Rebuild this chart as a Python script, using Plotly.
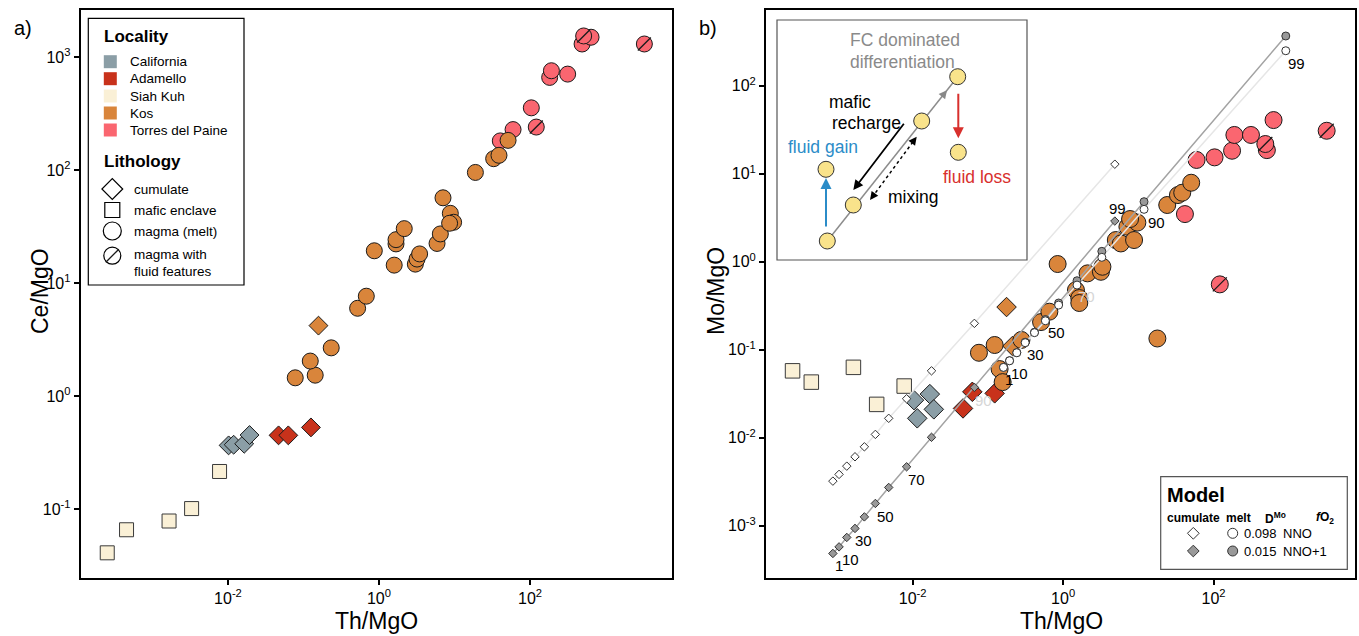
import numpy as np
import plotly.graph_objects as go

FONT = "Liberation Sans, Arial, sans-serif"

# ---------------- colours ----------------
C_CAL = "#8b9ea6"
C_ADA = "#c8321b"
C_SIA = "#faf0d6"
C_KOS = "#d9853b"
C_TOR = "#fa6670"

# ---------------- panel a data (Th/MgO vs Ce/MgO) ----------------
siah_th_a = [2.52e-4, 4.54e-4, 1.66e-3, 3.3e-3, 7.74e-3]
siah_ce_a = [0.041, 0.0656, 0.0784, 0.101, 0.215]
cal_th_a = [0.0102, 0.0119, 0.0164, 0.0193]
cal_ce_a = [0.366, 0.371, 0.378, 0.452]
ada_th_a = [0.0468, 0.063, 0.1256]
ada_ce_a = [0.449, 0.449, 0.528]
kos_cum_th_a = [0.158]
kos_cum_ce_a = [4.2]
kos_th_a = [0.0778, 0.143, 0.123, 0.233, 0.521, 0.679, 0.867, 1.59, 1.68, 1.68, 2.16, 3.03,
            3.19, 3.45, 5.87, 6.49, 7.04, 8.80, 9.73, 8.61, 18.9, 33.0, 38.8, 51.2]
kos_ce_a = [1.45, 1.53, 2.04, 2.67, 5.98, 7.65, 19.3, 14.4, 22.2, 24.2, 30.3, 14.7,
            16.3, 18.1, 22.4, 27.2, 56.8, 41.4, 34.5, 33.8, 95.2, 126, 135, 183]
tor_th_a = [40.4, 59.6, 104, 182, 192, 315, 489, 643]
tor_ce_a = [181, 228, 355, 660, 756, 706, 1304, 1496]
torf_th_a = [121, 513, 3266]
torf_ce_a = [240, 1536, 1304]

# ---------------- panel b data (Th/MgO vs Mo/MgO) ----------------
siah_th_b = [2.53e-4, 4.49e-4, 1.63e-3, 3.32e-3, 7.71e-3]
siah_mo_b = [0.0575, 0.0428, 0.063, 0.0239, 0.0386]
cal_th_b = [0.0104, 0.0169, 0.0191, 0.0115]
cal_mo_b = [0.0267, 0.0313, 0.021, 0.0166]
ada_th_b = [0.0467, 0.0621, 0.123]
ada_mo_b = [0.0215, 0.0332, 0.0319]
kos_cum_th_b = [0.177, 0.212]
kos_cum_mo_b = [0.305, 0.11]
kos_th_b = [0.076, 0.123, 0.279, 0.143, 0.157, 0.509, 0.656, 0.845, 1.48, 1.64, 1.64, 2.11,
            3.18, 3.33, 5.02, 5.85, 7.15, 8.77, 9.70, 7.76, 24.2, 33.6, 38.3, 50.4, 17.9]
kos_mo_b = [0.0922, 0.113, 0.129, 0.0602, 0.0428, 0.206, 0.270, 0.94, 0.475, 0.386, 0.339, 0.736,
            0.767, 0.875, 1.76, 1.61, 2.49, 1.76, 2.78, 3.05, 4.40, 5.71, 6.07, 7.88, 0.134]
tor_th_b = [59.4, 103, 176, 189, 314, 627, 511, 41.6]
tor_mo_b = [14.3, 15.3, 18.2, 27.5, 27.5, 40.6, 18.5, 3.47]
torf_th_b = [487, 121, 3186]
torf_mo_b = [21.7, 0.552, 30.7]

# ---------------- fractional crystallisation model ----------------
model_F = [1, 10, 20, 30, 40, 50, 60, 70, 80, 90, 99]
model_labels = [1, 10, 30, 50, 70, 90, 99]
cum_th = [8.69e-4, 1.05e-3, 1.33e-3, 1.71e-3, 2.28e-3, 3.19e-3, 4.80e-3, 8.30e-3, 0.0178, 0.0661, 4.87]
cum_mo_nno = [3.21e-3, 3.83e-3, 4.75e-3, 6.07e-3, 7.88e-3, 0.0109, 0.0166, 0.0277, 0.0575, 0.199, 12.8]
cum_mo_nno1 = [4.84e-4, 5.75e-4, 7.36e-4, 9.31e-4, 1.26e-3, 1.79e-3, 2.72e-3, 4.67e-3, 0.0101, 0.0373, 2.89]
melt_th = [0.161, 0.194, 0.242, 0.313, 0.416, 0.581, 0.871, 1.53, 3.27, 11.9, 912]
melt_mo_nno = [0.0629, 0.0748, 0.0922, 0.120, 0.156, 0.213, 0.321, 0.542, 1.12, 3.93, 249]
melt_mo_nno1 = [0.0629, 0.075, 0.0927, 0.1215, 0.158, 0.220, 0.339, 0.607, 1.31, 4.80, 366]

fig = go.Figure()


def pts(x, y, symbol, size, color, xa, ya, lw=1.0, lc="#1a1a1a"):
    fig.add_trace(go.Scatter(x=x, y=y, mode="markers", xaxis=xa, yaxis=ya,
                             marker=dict(symbol=symbol, size=size, color=color,
                                         line=dict(width=lw, color=lc)),
                             showlegend=False, hoverinfo="skip"))


def slash(x, y, xa, ya, size=13):
    fig.add_trace(go.Scatter(x=x, y=y, mode="markers", xaxis=xa, yaxis=ya,
                             marker=dict(symbol="line-ne", size=size,
                                         line=dict(width=1.3, color="#1a1a1a")),
                             showlegend=False, hoverinfo="skip"))


# ---- panel a ----
pts(siah_th_a, siah_ce_a, "square", 14, C_SIA, "x", "y", lc="#3a3a3a")
pts(cal_th_a, cal_ce_a, "diamond", 14.5, C_CAL, "x", "y")
pts(ada_th_a, ada_ce_a, "diamond", 14.5, C_ADA, "x", "y")
pts(tor_th_a, tor_ce_a, "circle", 16, C_TOR, "x", "y")
pts(torf_th_a, torf_ce_a, "circle", 16, C_TOR, "x", "y")
slash(torf_th_a, torf_ce_a, "x", "y")
pts(kos_cum_th_a, kos_cum_ce_a, "diamond", 14.5, C_KOS, "x", "y")
pts(kos_th_a, kos_ce_a, "circle", 16, C_KOS, "x", "y")

# ---- panel b ----
pts(siah_th_b, siah_mo_b, "square", 14.5, C_SIA, "x2", "y2", lc="#3a3a3a")
pts(cal_th_b, cal_mo_b, "diamond", 15, C_CAL, "x2", "y2")
pts(ada_th_b, ada_mo_b, "diamond", 15, C_ADA, "x2", "y2")
pts(tor_th_b, tor_mo_b, "circle", 17, C_TOR, "x2", "y2")
pts(torf_th_b, torf_mo_b, "circle", 17, C_TOR, "x2", "y2")
slash(torf_th_b, torf_mo_b, "x2", "y2", 14)
pts(kos_cum_th_b, kos_cum_mo_b, "diamond", 15, C_KOS, "x2", "y2")
pts(kos_th_b, kos_mo_b, "circle", 17, C_KOS, "x2", "y2")

# model curves
L_NNO1 = "#a3a3a3"
L_NNO = "#e6e6e6"
for xs, ys, sym, sz, fill, lcol in [
    (cum_th, cum_mo_nno1, "diamond", 6.5, "#999999", L_NNO1),
    (cum_th, cum_mo_nno, "diamond", 6.5, "white", L_NNO),
    (melt_th, melt_mo_nno1, "circle", 8, "#999999", L_NNO1),
    (melt_th, melt_mo_nno, "circle", 8, "white", L_NNO),
]:
    fig.add_trace(go.Scatter(x=xs, y=ys, mode="lines", xaxis="x2", yaxis="y2",
                             line=dict(color=lcol, width=1.5), showlegend=False, hoverinfo="skip"))
for xs, ys, sym, sz, fill in [
    (cum_th, cum_mo_nno1, "diamond", 6.5, "#999999"),
    (cum_th, cum_mo_nno, "diamond", 6.5, "white"),
    (melt_th, melt_mo_nno1, "circle", 8, "#999999"),
    (melt_th, melt_mo_nno, "circle", 8, "white"),
]:
    pts(xs, ys, sym, sz, fill, "x2", "y2", lw=1, lc="#333333")

annotations = []

# model F labels
cum_off = {1: (6, -12), 10: (11, -13), 30: (9, -12), 50: (10, -13), 70: (10, -13), 90: (9, -13), 99: (3, 13)}
melt_off = {1: (6, -12), 10: (10, -13), 30: (10, -12), 50: (11, -12), 70: (9, -11), 90: (12, -13), 99: (11, -13)}
cum_light = {90}
melt_light = {70}
for f in model_labels:
    i = model_F.index(f)
    dx, dy = cum_off[f]
    annotations.append(dict(x=np.log10(cum_th[i]), y=np.log10(cum_mo_nno1[i]), xref="x2", yref="y2",
                            text=str(f), showarrow=False, xshift=dx, yshift=dy,
                            font=dict(family=FONT, size=15, color="#d6d6d6" if f in cum_light else "black")))
    dx, dy = melt_off[f]
    annotations.append(dict(x=np.log10(melt_th[i]), y=np.log10(melt_mo_nno[i]), xref="x2", yref="y2",
                            text=str(f), showarrow=False, xshift=dx, yshift=dy,
                            font=dict(family=FONT, size=15, color="#d6d6d6" if f in melt_light else "black")))

# ---------------- overlay (pixel) axis for legends, inset and titles ----------------
def txt(x, y, s, size=13.5, color="black", xanchor="left", bold=False, angle=0):
    if bold:
        s = "<b>" + s + "</b>"
    annotations.append(dict(x=x, y=y, xref="x3", yref="y3", text=s, showarrow=False,
                            xanchor=xanchor, yanchor="middle", textangle=angle,
                            font=dict(family=FONT, size=size, color=color)))


# panel a legend
loc_names = ["California", "Adamello", "Siah Kuh", "Kos", "Torres del Paine"]
loc_cols = [C_CAL, C_ADA, C_SIA, C_KOS, C_TOR]
loc_y = [61.7, 78.7, 96, 113, 130]
fig.add_trace(go.Scatter(x=[110.3] * 5, y=loc_y, mode="markers", xaxis="x3", yaxis="y3",
                         marker=dict(symbol="square", size=13, color=loc_cols, line=dict(width=0)),
                         showlegend=False, hoverinfo="skip"))
for n, yy in zip(loc_names, loc_y):
    txt(128, yy, n, 13.5)
txt(102, 36, "Locality", 17, bold=True)
txt(102, 161, "Lithology", 17, bold=True)
pts([112.3], [189], "diamond", 16, "white", "x3", "y3", lw=1.2, lc="black")
pts([112.3], [210], "square", 15, "white", "x3", "y3", lw=1.2, lc="black")
pts([112.3], [231], "circle", 18, "white", "x3", "y3", lw=1.2, lc="black")
pts([112.3], [255.7], "circle", 17, "white", "x3", "y3", lw=1.2, lc="black")
slash([112.3], [255.7], "x3", "y3", 13)
txt(132, 189, "cumulate", 13.5)
txt(132, 210, "mafic enclave", 13.5)
txt(132, 231, "magma (melt)", 13.5)
txt(132, 254, "magma with", 13.5)
txt(132, 271, "fluid features", 13.5)

# model legend
txt(1165, 495, "Model", 20, bold=True)
txt(1193, 518, "cumulate", 12, xanchor="center", bold=True)
txt(1238.7, 518, "melt", 12, xanchor="center", bold=True)
txt(1275, 518, "D<sup>Mo</sup>", 12, xanchor="center", bold=True)
txt(1325, 518, "<i>f</i>O<sub>2</sub>", 12, xanchor="center", bold=True)
pts([1193.3], [533.3], "diamond", 9, "white", "x3", "y3", lw=1, lc="#333333")
pts([1193.3], [551], "diamond", 9, "#999999", "x3", "y3", lw=1, lc="#333333")
pts([1232.7], [533.3], "circle", 10, "white", "x3", "y3", lw=1, lc="#333333")
pts([1232.7], [551], "circle", 10, "#999999", "x3", "y3", lw=1, lc="#333333")
txt(1260.5, 533.3, "0.098", 13, xanchor="center")
txt(1260.5, 551, "0.015", 13, xanchor="center")
txt(1281, 533.3, "NNO", 13)
txt(1281, 551, "NNO+1", 13)

# inset schematic
YEL = "#f9e38b"
pts([957.7, 921.7, 853.3, 827.3, 826, 958.3], [76.7, 121, 205, 241, 169.3, 152.3],
    "circle", 16, YEL, "x3", "y3", lw=1, lc="#333333")
txt(905, 40, "FC dominated", 17.5, color="#8a8a8a", xanchor="center")
txt(902, 62, "differentiation", 17.5, color="#8a8a8a", xanchor="center")
txt(850, 102, "mafic", 17.5, xanchor="center")
txt(866, 123, "recharge", 17.5, xanchor="center")
txt(823, 147, "fluid gain", 17.5, color="#2b8cc8", xanchor="center")
txt(977, 177, "fluid loss", 17.5, color="#d8302d", xanchor="center")
txt(913, 197, "mixing", 17.5, xanchor="center")


def arrow(hx, hy, tx, ty, color, width=1.8, size=1.1):
    annotations.append(dict(x=hx, y=hy, ax=tx, ay=ty, xref="x3", yref="y3", axref="x3", ayref="y3",
                            text="", showarrow=True, arrowhead=2, arrowsize=size, arrowwidth=width,
                            arrowcolor=color, standoff=0, startstandoff=0))


arrow(826, 178, 826, 228, "#2b8cc8", 2)
arrow(958.3, 138.3, 958.3, 92.3, "#d8302d", 2)
arrow(853.3, 190, 905, 122.3, "black", 1.8)
arrow(947, 90.2, 940.8, 98, "#888888", 1.5)
arrow(870, 200, 873, 196, "black", 1.5)
arrow(916.7, 136.7, 913.7, 140.7, "black", 1.5)

shapes = [
    dict(type="rect", xref="x3", yref="y3", x0=777, y0=20, x1=1027, y1=260,
         line=dict(color="#555555", width=1.2), layer="below"),
    dict(type="line", xref="x3", yref="y3", x0=827.3, y0=241, x1=957.7, y1=76.7,
         line=dict(color="#8c8c8c", width=1.5), layer="below"),
    dict(type="line", xref="x3", yref="y3", x0=872, y0=197.5, x1=914.7, y1=139.5,
         line=dict(color="black", width=1.5, dash="dot"), layer="below"),
    dict(type="rect", xref="x3", yref="y3", x0=88.3, y0=18.3, x1=244, y1=285,
         line=dict(color="black", width=1.2), layer="below"),
    dict(type="rect", xref="x3", yref="y3", x0=1160.7, y0=476.7, x1=1347.3, y1=569.3,
         line=dict(color="#555555", width=1.2), layer="below"),
]

# axis titles and panel labels
txt(376, 621, "Th/MgO", 23, xanchor="center")
txt(1061, 621, "Th/MgO", 23, xanchor="center")
txt(40, 291, "Ce/MgO", 23, xanchor="center", angle=-90)
txt(716, 291, "Mo/MgO", 23, xanchor="center", angle=-90)
txt(12, 28, "a)", 20)
txt(697, 28, "b)", 20)

W, H = 1359, 636
XR = [-3.95, 3.88]


def logaxis(domain, rng, anchor, vals):
    txts = ["10<sup>%d</sup>" % int(round(np.log10(v))) for v in vals]
    return dict(type="log", domain=domain, range=rng, anchor=anchor, showline=True, linewidth=2,
                linecolor="black", mirror=True, ticks="outside", ticklen=5, tickwidth=1.5,
                tickcolor="black", tickvals=vals, ticktext=txts, showgrid=False, zeroline=False,
                tickfont=dict(family=FONT, size=16, color="black"), fixedrange=True)


ydom = [1 - 578 / H, 1 - 10 / H]
fig.update_layout(
    width=W, height=H, margin=dict(l=0, r=0, t=0, b=0),
    paper_bgcolor="white", plot_bgcolor="rgba(0,0,0,0)", showlegend=False,
    font=dict(family=FONT, color="black"),
    xaxis=logaxis([80.7 / W, 672 / W], XR, "y", [1e-2, 1, 1e2]),
    yaxis=logaxis(ydom, [-1.61, 3.416], "x", [0.1, 1, 10, 100, 1000]),
    xaxis2=logaxis([766 / W, 1355 / W], XR, "y2", [1e-2, 1, 1e2]),
    yaxis2=logaxis(ydom, [-3.594, 2.859], "x2", [1e-3, 1e-2, 0.1, 1, 10, 100]),
    xaxis3=dict(domain=[0, 1], range=[0, W], anchor="y3", visible=False, fixedrange=True),
    yaxis3=dict(domain=[0, 1], range=[H, 0], anchor="x3", visible=False, fixedrange=True),
    annotations=annotations, shapes=shapes,
)

fig.write_html("out.html")
